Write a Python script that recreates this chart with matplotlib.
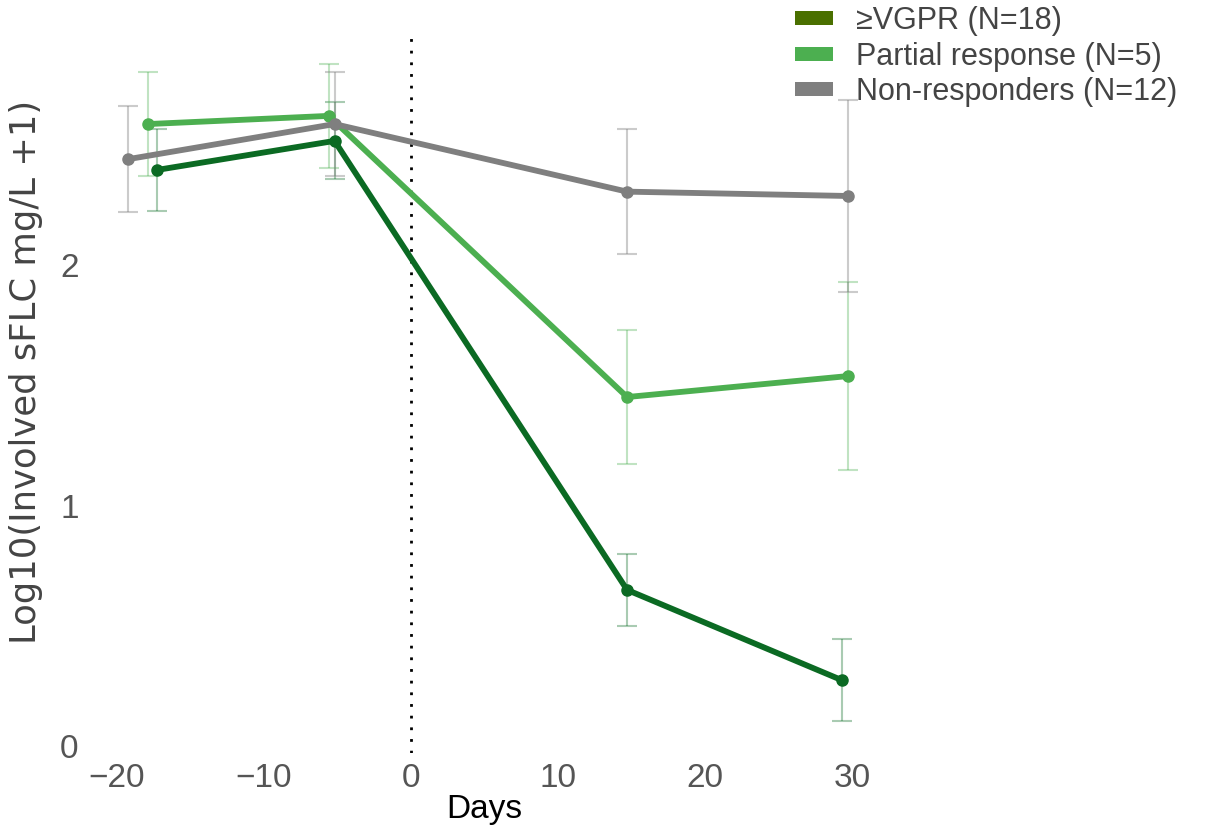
import matplotlib
matplotlib.use("Agg")
import matplotlib.pyplot as plt
from matplotlib.patches import Patch

# Data
vgpr_x = [-17.3, -5.2, 14.7, 29.3]
vgpr_y = [2.395, 2.516, 0.649, 0.274]
vgpr_err = [0.17, 0.16, 0.15, 0.17]

partial_x = [-17.9, -5.6, 14.7, 29.7]
partial_y = [2.586, 2.620, 1.451, 1.538]
partial_err = [0.215, 0.215, 0.277, 0.39]

nonresp_x = [-19.25, -5.2, 14.7, 29.7]
nonresp_y = [2.440, 2.586, 2.305, 2.287]
nonresp_err = [0.22, 0.215, 0.26, 0.40]

labels = ["\u2265VGPR (N=18)", "Partial response (N=5)", "Non-responders (N=12)"]
line_colors = ["#0b6a23", "#4caf50", "#7f7f7f"]
legend_colors = ["#4a7000", "#4caf50", "#7f7f7f"]
xticks = [-20, -10, 0, 10, 20, 30]
yticks = [0, 1, 2]

W, H = 1209, 826
fig = plt.figure(figsize=(W / 100, H / 100), dpi=100)
plt.rcParams['font.family'] = ['Liberation Sans', 'DejaVu Sans']

# axes placement in pixels
x0, x1 = -21.0, 31.0
y0, y1 = -0.03, 2.977
px_left = 411 + 14.7 * x0
px_right = 411 + 14.7 * x1
px_bottom = 746 - 240.5 * y0
px_top = 746 - 240.5 * y1
ax = fig.add_axes([px_left / W, 1 - px_bottom / H,
                   (px_right - px_left) / W, (px_bottom - px_top) / H])

series = [(vgpr_x, vgpr_y, vgpr_err), (partial_x, partial_y, partial_err),
          (nonresp_x, nonresp_y, nonresp_err)]
err_alpha = [0.35, 0.35, 0.4]
for (xs, ys, es), c, a in zip(series, line_colors, err_alpha):
    ax.errorbar(xs, ys, yerr=es, fmt='none', ecolor=c, alpha=a,
                elinewidth=1.5, capsize=7, capthick=1.5, zorder=2)
for (xs, ys, es), c in zip(series, line_colors):
    ax.plot(xs, ys, '-o', color=c, lw=4.2, ms=8, zorder=3)

ax.axvline(0, color='black', ls=(0, (1, 3.2)), lw=2, zorder=1)

ax.set_xlim(x0, x1)
ax.set_ylim(y0, y1)
ax.set_xticks(xticks)
ax.set_yticks(yticks)
ax.set_xticklabels([str(t).replace('-', '\u2212') for t in xticks])
for s in ax.spines.values():
    s.set_visible(False)
ax.tick_params(axis='both', length=0, labelsize=24, colors='#555555')
ax.tick_params(axis='x', pad=7)
ax.tick_params(axis='y', pad=17)

ax.set_xlabel("Days", fontsize=24, color='black', labelpad=0)
ax.set_ylabel("Log10(Involved sFLC mg/L +1)", fontsize=25.5, color='#444444',
              family=['DejaVu Sans'])
ax.yaxis.set_label_coords(-(px_left - 43) / (px_right - px_left),
                          (px_bottom - 372) / (px_bottom - px_top))

handles = [Patch(facecolor=c, edgecolor='none') for c in legend_colors]
leg = fig.legend(handles, labels, loc='upper left',
                 bbox_to_anchor=(783 / W, 1 + 6 / H), frameon=False,
                 fontsize=22, handlelength=1.25, handleheight=0.35,
                 handletextpad=0.75, labelspacing=0.18, borderaxespad=0)
for t in leg.get_texts():
    t.set_color('#444444')

fig.savefig("out.png", dpi=100)
